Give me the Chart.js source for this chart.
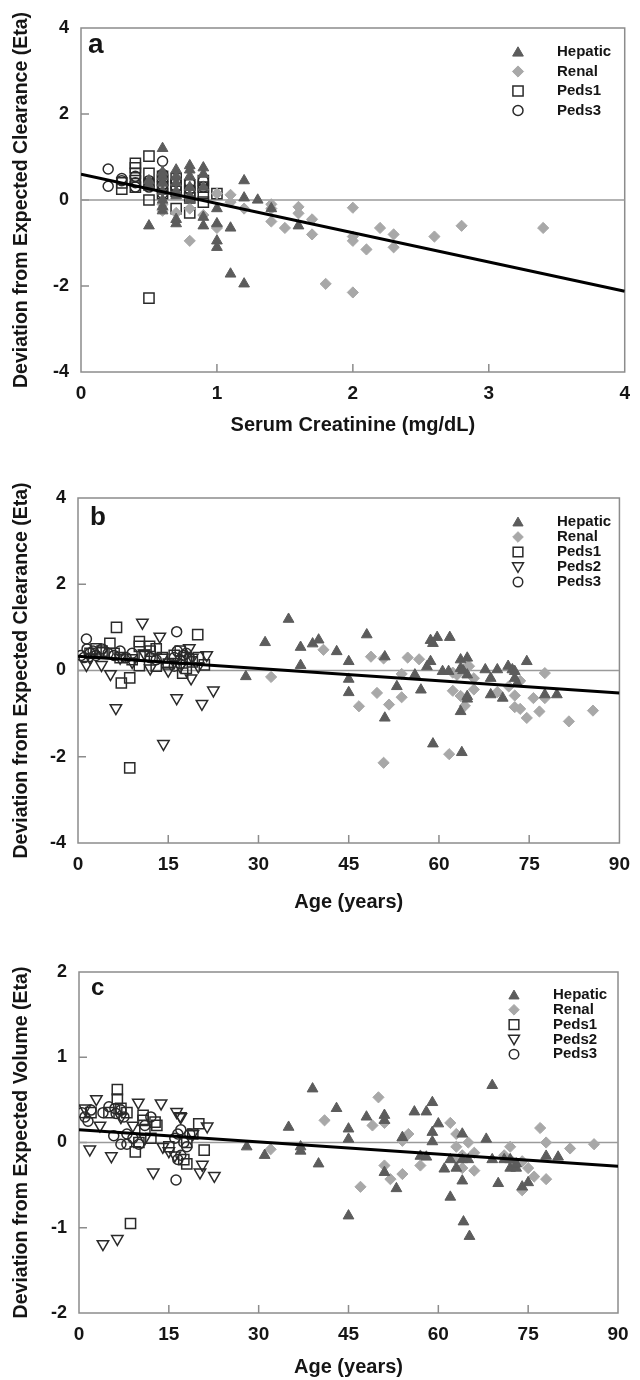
<!DOCTYPE html>
<html>
<head>
<meta charset="utf-8">
<title>Deviation from expected clearance / volume</title>
<style>
  body { margin: 0; background: #fff; }
  canvas { display: block; }
</style>
</head>
<body>
<canvas id="chartA" width="640" height="460"></canvas>
<canvas id="chartB" width="640" height="460"></canvas>
<canvas id="chartC" width="640" height="460"></canvas>

<script src="https://cdn.jsdelivr.net/npm/chart.js"></script>
<script>
// ---- panel a : eta CL vs serum creatinine ----
const hepaticA = [[0.5,-0.6],[0.5,0.35],[0.5,0.45],[0.6,1.2],[0.6,0.65],[0.6,0.55],[0.6,0.4],[0.6,0.2],[0.6,0.0],[0.6,-0.15],[0.6,-0.25],
  [0.7,0.7],[0.7,0.55],[0.7,0.4],[0.7,0.2],[0.7,0.1],[0.7,-0.45],[0.7,-0.55],[0.8,0.8],[0.8,0.7],[0.8,0.55],[0.8,0.3],[0.8,0.1],[0.8,0.0],
  [0.9,0.75],[0.9,0.6],[0.9,0.3],[0.9,-0.4],[0.9,-0.6],[1.0,-0.2],[1.0,-0.55],[1.0,-0.95],[1.0,-1.1],[1.1,-0.65],[1.1,-1.72],
  [1.2,0.45],[1.2,0.05],[1.2,-1.95],[1.3,0.0],[1.4,-0.2],[1.6,-0.6]];
const renalA = [[0.6,-0.1],[0.6,-0.25],[0.7,-0.3],[0.8,-0.95],[0.8,-0.2],[0.9,-0.35],[1.0,0.15],[1.0,-0.6],[1.0,-0.65],[1.1,0.12],[1.1,-0.05],
  [1.2,-0.2],[1.4,-0.1],[1.4,-0.5],[1.4,-0.2],[1.5,-0.65],[1.6,-0.16],[1.6,-0.31],[1.7,-0.45],[1.7,-0.8],[1.8,-1.95],[2.0,-0.18],[2.0,-0.85],
  [2.0,-0.95],[2.0,-2.15],[2.1,-1.15],[2.2,-0.65],[2.3,-0.8],[2.3,-1.1],[2.6,-0.85],[2.8,-0.6],[3.4,-0.65]];
const peds1A = [[0.3,0.25],[0.3,0.4],[0.4,0.85],[0.4,0.75],[0.4,0.62],[0.4,0.45],[0.4,0.3],[0.5,1.02],[0.5,0.62],[0.5,0.35],[0.5,0.0],[0.5,-2.28],
  [0.6,0.55],[0.6,0.45],[0.6,0.3],[0.6,0.15],[0.7,0.5],[0.7,0.35],[0.7,0.2],[0.7,-0.2],[0.8,0.35],[0.8,0.2],[0.8,0.05],[0.8,-0.3],
  [0.9,0.45],[0.9,0.3],[0.9,0.15],[0.9,-0.05],[1.0,0.15]];
const peds3A = [[0.2,0.72],[0.2,0.32],[0.3,0.5],[0.3,0.45],[0.4,0.55],[0.4,0.4],[0.4,0.3],[0.5,0.45],[0.5,0.3],[0.6,0.9],[0.6,0.6],[0.6,0.35],
  [0.6,0.15],[0.7,0.45],[0.7,0.3],[0.8,0.4],[0.8,0.25],[0.9,0.45],[0.9,0.3]];
const fitA = [[0,0.6],[4,-2.12]];
const xTicksA = [0, 1, 2, 3, 4];
const yTicksA = [-4, -2, 0, 2, 4];

// ---- panel b : eta CL vs age ----
const hepaticB = [[27.9,-0.14],[31.1,0.65],[35,1.19],[37,0.54],[37,0.12],[39,0.62],[40,0.71],[43,0.44],[45,0.21],[45,-0.2],[45,-0.51],
  [48,0.83],[51,0.32],[51,-1.1],[53,-0.37],[56,-0.1],[57,-0.45],[58,0.09],[58.6,0.21],[58.6,0.7],[59,0.63],[59.7,0.77],[61.8,0.77],
  [59,-1.7],[60.6,-0.02],[61.6,-0.02],[63.6,0.25],[64.7,0.29],[63.6,0.05],[64,0.0],[64.7,-0.1],[64.7,-0.6],[64.7,-0.66],[63.6,-0.95],
  [63.8,-1.9],[67.7,0.02],[68.6,-0.18],[68.6,-0.56],[69.7,0.02],[70.6,-0.64],[71.5,0.1],[72.2,0.02],[72.6,-0.18],[74.6,0.21],
  [77.6,-0.56],[79.6,-0.56],[72.6,-0.02],[73,-0.3]];
const renalB = [[32.1,-0.15],[40.8,0.48],[46.7,-0.83],[48.7,0.32],[49.7,-0.52],[50.8,0.28],[50.8,-2.14],[51.7,-0.79],[53.8,-0.62],
  [53.8,-0.08],[54.8,0.3],[56.7,0.26],[61.7,-1.94],[62.3,-0.05],[62.3,-0.47],[63.6,-0.59],[64.3,-0.82],[64.7,0.08],[65.8,-0.18],
  [65.8,-0.44],[69.7,-0.5],[71.6,-0.37],[72.6,-0.58],[72.6,-0.85],[73.5,-0.89],[74.6,-1.1],[73.5,-0.24],[75.7,-0.64],[76.7,-0.95],
  [77.6,-0.06],[77.6,-0.64],[81.6,-1.18],[85.6,-0.93],[63,-0.1],[65,0.1]];
const peds1B = [[6.4,1.0],[19.9,0.83],[8.6,-2.26],[7.2,-0.29],[8.6,-0.17],[10.2,0.67],[10.2,0.56],[10.2,0.11],[5.3,0.63],[11.9,0.56],
  [17.4,-0.06],[21,0.13],[3,0.5],[4,0.45],[6,0.4],[7,0.3],[9,0.25],[11,0.35],[12,0.45],[13,0.5],[14,0.3],[16,0.35],[17,0.45],
  [18,0.3],[19,0.2],[20,0.3],[15,0.15],[2,0.4],[13,0.1],[18,0.05]];
const peds2B = [[10.7,1.11],[13.6,0.79],[18.5,0.52],[21.4,0.36],[6.3,-0.87],[14.2,-1.7],[16.4,-0.64],[20.6,-0.77],[22.5,-0.46],
  [5.4,-0.08],[1.4,0.13],[3.9,0.13],[18.8,-0.18],[15,0.0],[12,0.05],[9,0.2],[7,0.3],[17,0.1],[19,0.3],[2,0.3],[4,0.45],[11,0.4],
  [14,0.3],[20,0.1],[16,0.2]];
const peds3B = [[1.4,0.73],[16.4,0.9],[0.5,0.35],[1,0.3],[1.5,0.5],[2,0.4],[2.5,0.45],[3,0.35],[4,0.5],[5,0.4],[6,0.35],[7,0.45],
  [8,0.3],[9,0.4],[16,0.3],[16.5,0.45],[17,0.25],[17.5,0.35],[18,0.4],[18.5,0.3],[17,0.15],[16,0.1],[12,0.3],[13,0.25]];
const fitB = [[0,0.33],[90,-0.52]];
const xTicksB = [0, 15, 30, 45, 60, 75, 90];
const yTicksB = [-4, -2, 0, 2, 4];

// ---- panel c : eta V vs age ----
const hepaticC = [[28,-0.05],[31,-0.15],[35,0.18],[37,-0.1],[37,-0.05],[39,0.63],[40,-0.25],[43,0.4],[45,0.16],[45,0.04],[45,-0.86],
  [48,0.3],[51,0.32],[51,0.26],[51,-0.35],[53,-0.54],[54,0.06],[56,0.36],[58,0.36],[59,0.47],[57,-0.16],[58,-0.17],[59,0.12],
  [59,0.01],[60,0.22],[61,-0.31],[62,-0.64],[62,-0.2],[63,-0.3],[64,0.1],[64,-0.2],[64,-0.45],[64.2,-0.93],[65.2,-1.1],[65,-0.2],
  [68,0.04],[69,0.67],[69,-0.2],[70,-0.48],[71,-0.2],[72,-0.2],[72,-0.3],[73,-0.3],[74,-0.52],[75,-0.47],[78,-0.16],[80,-0.17],[73,-0.25]];
const renalC = [[32,-0.08],[41,0.26],[47,-0.52],[49,0.2],[50,0.53],[51,0.23],[51,-0.27],[52,-0.43],[54,-0.37],[54,0.02],[55,0.1],
  [57,-0.27],[62,0.23],[63,0.1],[63,-0.05],[63,-0.2],[64,-0.3],[65,0.0],[66,-0.12],[66,-0.33],[72,-0.05],[72,-0.2],[74,-0.22],
  [75,-0.3],[76,-0.4],[74,-0.56],[77,0.17],[78,0.0],[78,-0.43],[82,-0.07],[86,-0.02],[71,-0.15],[64,-0.15]];
const peds1C = [[6.4,0.62],[6.4,0.51],[8.6,-0.95],[10.7,0.32],[10.7,0.26],[12.7,0.24],[9.4,-0.11],[20,0.22],[20.9,-0.09],[18,-0.25],
  [17.5,-0.2],[11,0.15],[12,0.05],[8,0.35],[7,0.4],[10,0.0],[13,0.2],[19,0.1],[18,0.0],[5,0.35],[2,0.35],[15,-0.05]];
const peds2C = [[2.9,0.51],[9.9,0.47],[13.7,0.46],[1.8,-0.08],[5.4,-0.16],[12.4,-0.35],[20.2,-0.35],[22.6,-0.39],[21.4,0.19],
  [16.3,0.36],[16.9,0.31],[20.6,-0.26],[4,-1.19],[6.4,-1.13],[17,0.3],[3.5,0.2],[7,0.3],[11,0.05],[14,-0.05],[15,-0.1],[16,-0.15],
  [19,0.1],[9,0.2],[1,0.4]];
const peds3C = [[16.2,-0.44],[5.8,0.08],[7,0.38],[6.2,0.34],[0.5,0.35],[1,0.3],[1.5,0.25],[2,0.38],[4,0.35],[5,0.42],[6,0.4],
  [7.5,0.3],[8,0.1],[9,0.05],[8,-0.02],[10,-0.02],[16,0.05],[16.5,0.1],[17,0.15],[17.5,0.0],[18,-0.05],[18.5,0.1],[17,-0.15],
  [16.5,-0.2],[11,0.2],[12,0.3],[7,-0.02]];
const fitC = [[0,0.15],[90,-0.28]];
const xTicksC = [0, 15, 30, 45, 60, 75, 90];
const yTicksC = [-2, -1, 0, 1, 2];

const FONT = "'Liberation Sans', Arial, Helvetica, sans-serif";
const INK = '#151515';
const AXIS_GREY = '#8c8c8c';

// marker looks for each group
const groupStyle = {
  Hepatic: { pointStyle: 'triangle', rot: 0, r: 6.2, fill: '#5c5c5c', stroke: '#5c5c5c', w: 1 },
  Renal:   { pointStyle: 'rectRot', rot: 0, r: 5.6, fill: '#a8a8a8', stroke: '#a8a8a8', w: 1 },
  Peds1:   { pointStyle: 'rect', rot: 0, r: 7.2, fill: 'rgba(255,255,255,0)', stroke: '#2a2a2a', w: 1.5 },
  Peds2:   { pointStyle: 'triangle', rot: 180, r: 6.6, fill: 'rgba(255,255,255,0)', stroke: '#2a2a2a', w: 1.5 },
  Peds3:   { pointStyle: 'circle', rot: 0, r: 5.0, fill: 'rgba(255,255,255,0)', stroke: '#2a2a2a', w: 1.5 }
};

function scatterSet(name, data) {
  const s = groupStyle[name];
  return {
    type: 'scatter', label: name, data: data, order: 2,
    pointStyle: s.pointStyle, rotation: s.rot, pointRadius: s.r,
    backgroundColor: s.fill, borderColor: s.stroke, borderWidth: s.w
  };
}

// draw one legend symbol by hand (same shapes as chart.js point styles)
function drawMarker(ctx, s, x, y, r) {
  ctx.save();
  ctx.beginPath();
  ctx.translate(x, y);
  ctx.rotate(s.rot * Math.PI / 180);
  if (s.pointStyle === 'triangle') {
    ctx.moveTo(0, -r); ctx.lineTo(0.866 * r, 0.5 * r); ctx.lineTo(-0.866 * r, 0.5 * r); ctx.closePath();
  } else if (s.pointStyle === 'rectRot') {
    ctx.moveTo(0, -r); ctx.lineTo(r, 0); ctx.lineTo(0, r); ctx.lineTo(-r, 0); ctx.closePath();
  } else if (s.pointStyle === 'rect') {
    const h = r * Math.SQRT1_2; ctx.rect(-h, -h, 2 * h, 2 * h);
  } else {
    ctx.arc(0, 0, r, 0, Math.PI * 2);
  }
  ctx.fillStyle = s.fill; ctx.fill();
  ctx.lineWidth = s.w; ctx.strokeStyle = s.stroke; ctx.stroke();
  ctx.restore();
}

const framePlugin = {
  id: 'frame',
  beforeDatasetsDraw(chart) {
    const { ctx, chartArea: a, scales } = chart;
    ctx.save();
    ctx.strokeStyle = AXIS_GREY; ctx.lineWidth = 1.5;
    ctx.strokeRect(a.left, a.top, a.right - a.left, a.bottom - a.top);
    ctx.beginPath();
    scales.x.ticks.forEach(t => {
      if (t.value === scales.x.min || t.value === scales.x.max) return;
      const px = scales.x.getPixelForValue(t.value);
      ctx.moveTo(px, a.bottom); ctx.lineTo(px, a.bottom - 8);
    });
    scales.y.ticks.forEach(t => {
      if (t.value === scales.y.min || t.value === scales.y.max) return;
      const py = scales.y.getPixelForValue(t.value);
      ctx.moveTo(a.left, py); ctx.lineTo(a.left + 8, py);
    });
    ctx.stroke();
    ctx.restore();
  },
  afterDraw(chart, args, opts) {
    const ctx = chart.ctx;
    ctx.save();
    // panel letter
    ctx.fillStyle = INK;
    ctx.font = 'bold ' + opts.letterSize + 'px ' + FONT;
    ctx.textBaseline = 'alphabetic';
    ctx.fillText(opts.letter, opts.letterX, opts.letterY);
    // legend inside the plot
    ctx.font = 'bold 15px ' + FONT;
    ctx.textBaseline = 'middle';
    opts.groups.forEach((g, i) => {
      const y = opts.legY + i * opts.legDy;
      const s = groupStyle[g];
      drawMarker(ctx, s, opts.legMx, y + (s.pointStyle === 'triangle' ? (s.rot ? -1 : 1) : 0), s.r * opts.legScale);
      ctx.fillStyle = INK;
      ctx.fillText(g, opts.legTx, y);
    });
    ctx.restore();
  }
};

function makePanel(id, p) {
  const H = 460;
  const padBottom = H - (p.xTitleY + 12);
  const datasets = [
    { type: 'line', label: 'fit', data: p.fit, borderColor: '#000', borderWidth: 3, pointRadius: 0, order: 0 },
    { type: 'line', label: 'zero', data: [[p.xTicks[0], 0], [p.xTicks[p.xTicks.length - 1], 0]],
      borderColor: '#9a9a9a', borderWidth: 1.5, pointRadius: 0, order: 5 }
  ];
  p.groups.forEach(g => datasets.push(scatterSet(g, p.data[g])));

  new Chart(document.getElementById(id), {
    type: 'scatter',
    data: { datasets: datasets },
    options: {
      responsive: false,
      animation: false,
      layout: { padding: { top: p.top, right: 640 - p.right, left: 10, bottom: padBottom } },
      plugins: {
        legend: { display: false },
        tooltip: { enabled: false },
        frame: {
          letter: p.letter, letterX: p.letterX, letterY: p.letterY, letterSize: p.letterSize,
          groups: p.groups, legMx: p.legMx, legTx: p.legTx, legY: p.legY, legDy: p.legDy, legScale: p.legScale
        }
      },
      scales: {
        x: {
          type: 'linear',
          min: p.xTicks[0], max: p.xTicks[p.xTicks.length - 1],
          afterBuildTicks: s => { s.ticks = p.xTicks.map(v => ({ value: v })); },
          afterFit: s => { s.height = p.xTitleY + 12 - p.bottom; },
          grid: { display: false, drawTicks: false },
          border: { display: false },
          ticks: { padding: 10, color: INK, font: { family: FONT, size: 19, weight: 'bold' } },
          title: { display: true, text: p.xTitle, color: INK, padding: 0,
                   font: { family: FONT, size: 20, weight: 'bold' } }
        },
        y: {
          min: p.yTicks[0], max: p.yTicks[p.yTicks.length - 1],
          afterBuildTicks: s => { s.ticks = p.yTicks.map(v => ({ value: v })); },
          afterFit: s => { s.width = p.left - 10; },
          grid: { display: false, drawTicks: false },
          border: { display: false },
          ticks: { padding: 12, color: INK, font: { family: FONT, size: 18, weight: 'bold' } },
          title: { display: true, text: p.yTitle, color: INK, padding: 0,
                   font: { family: FONT, size: 19.5, weight: 'bold' } }
        }
      }
    },
    plugins: [framePlugin]
  });
}

makePanel('chartA', {
  top: 28, bottom: 372, left: 81, right: 625, xTitleY: 425,
  xTicks: xTicksA, yTicks: yTicksA, fit: fitA,
  xTitle: 'Serum Creatinine (mg/dL)', yTitle: 'Deviation from Expected Clearance (Eta)',
  groups: ['Hepatic', 'Renal', 'Peds1', 'Peds3'],
  data: { Hepatic: hepaticA, Renal: renalA, Peds1: peds1A, Peds3: peds3A },
  letter: 'a', letterX: 88, letterY: 53, letterSize: 28,
  legMx: 518, legTx: 557, legY: 52, legDy: 19.5, legScale: 1.0
});

makePanel('chartB', {
  top: 38, bottom: 383, left: 78, right: 623, xTitleY: 442,
  xTicks: xTicksB, yTicks: yTicksB, fit: fitB,
  xTitle: 'Age (years)', yTitle: 'Deviation from Expected Clearance (Eta)',
  groups: ['Hepatic', 'Renal', 'Peds1', 'Peds2', 'Peds3'],
  data: { Hepatic: hepaticB, Renal: renalB, Peds1: peds1B, Peds2: peds2B, Peds3: peds3B },
  letter: 'b', letterX: 90, letterY: 65, letterSize: 26,
  legMx: 518, legTx: 557, legY: 62, legDy: 15, legScale: 0.95
});

makePanel('chartC', {
  top: 52, bottom: 393, left: 79, right: 618, xTitleY: 447,
  xTicks: xTicksC, yTicks: yTicksC, fit: fitC,
  xTitle: 'Age (years)', yTitle: 'Deviation from Expected Volume (Eta)',
  groups: ['Hepatic', 'Renal', 'Peds1', 'Peds2', 'Peds3'],
  data: { Hepatic: hepaticC, Renal: renalC, Peds1: peds1C, Peds2: peds2C, Peds3: peds3C },
  letter: 'c', letterX: 91, letterY: 75, letterSize: 24,
  legMx: 514, legTx: 553, legY: 75, legDy: 14.8, legScale: 0.95
});
</script>
</body>
</html>
